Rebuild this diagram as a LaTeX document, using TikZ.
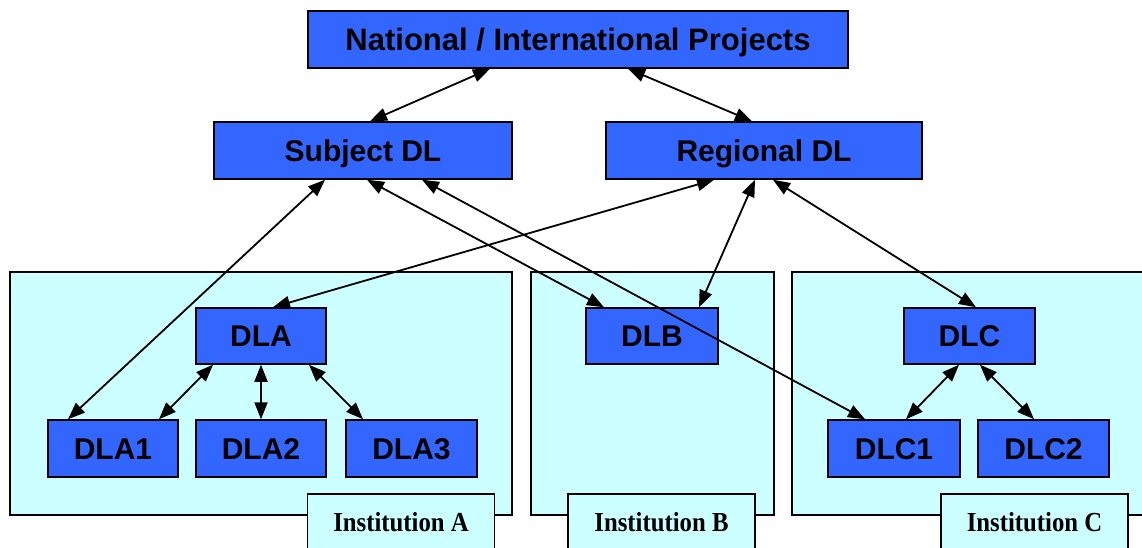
\documentclass[tikz,border=0pt]{standalone}
\usepackage{fontspec}
\setmainfont{Liberation Serif}
\newfontfamily\sansfam{Liberation Sans}
\newfontfamily\labfam[FakeStretch=0.9]{Liberation Serif}
\usetikzlibrary{arrows.meta}
\definecolor{dlblue}{HTML}{3366FF}
\definecolor{instcyan}{HTML}{CCFFFF}
\begin{document}
\begin{tikzpicture}[x=1pt,y=-1pt,
  dlbox/.style={draw=black,line width=1.5pt,fill=dlblue,inner sep=0pt,
    text height=21.5pt,text depth=0pt,
    font=\sansfam\bfseries\fontsize{30}{36}\selectfont},
  instbox/.style={draw=black,line width=1.5pt,fill=instcyan,inner sep=0pt},
  instlabel/.style={draw=black,line width=1.5pt,fill=instcyan,inner sep=0pt,
    minimum width=187pt,minimum height=57pt,text height=18.5pt,text depth=0pt,
    font=\labfam\bfseries\fontsize{27.5}{30}\selectfont},
  link/.style={line width=1.8pt,{Triangle[length=17pt,width=13pt]}-{Triangle[length=17pt,width=13pt]}}
]
\useasboundingbox (0,0) rectangle (1142,548);
% institutions
\node[instbox,minimum width=502pt,minimum height=243pt] (instA) at (261,393.5) {};
\node[instbox,minimum width=243pt,minimum height=243pt] (instB) at (652.5,393.5) {};
\node[instbox,minimum width=360pt,minimum height=243pt] (instC) at (972,393.5) {};
\node[instlabel] (labA) at (401,522.5) {Institution A};
\node[instlabel] (labB) at (661.5,522.5) {Institution B};
\node[instlabel] (labC) at (1034.5,522.5) {Institution C};
% top level
\node[dlbox,minimum width=540pt,minimum height=57pt,text height=22pt,font=\sansfam\bfseries\fontsize{31}{36}\selectfont] (nat) at (578,39.5) {National / International Projects};
\node[dlbox,minimum width=298pt,minimum height=57pt] (subj) at (363,150.5) {Subject DL};
\node[dlbox,minimum width=316pt,minimum height=57pt] (reg) at (764,150.5) {Regional DL};
% institution nodes
\node[dlbox,minimum width=130pt,minimum height=56pt] (dla) at (261,336) {DLA};
\node[dlbox,minimum width=130pt,minimum height=57pt] (dla1) at (113,448.5) {DLA1};
\node[dlbox,minimum width=130pt,minimum height=57pt] (dla2) at (261,448.5) {DLA2};
\node[dlbox,minimum width=131pt,minimum height=57pt] (dla3) at (411.5,448.5) {DLA3};
\node[dlbox,minimum width=132pt,minimum height=56pt] (dlb) at (652,336) {DLB};
\node[dlbox,minimum width=131pt,minimum height=56pt] (dlc) at (969.5,336) {DLC};
\node[dlbox,minimum width=132pt,minimum height=57pt] (dlc1) at (894,448.5) {DLC1};
\node[dlbox,minimum width=131pt,minimum height=57pt] (dlc2) at (1043.5,448.5) {DLC2};
% connectors
\draw[link] ([xshift=-88]nat.south) -- ([xshift=7]subj.north);
\draw[link] ([xshift=50]nat.south) -- ([xshift=-12]reg.north);
\draw[link] ([xshift=-38]subj.south) -- ([xshift=-45]dla1.north);
\draw[link] ([xshift=4]subj.south) -- ([xshift=-48]dlb.north);
\draw[link] ([xshift=59]subj.south) -- ([xshift=-29]dlc1.north);
\draw[link] ([xshift=-50]reg.south) -- ([xshift=12]dla.north);
\draw[link] ([xshift=-9]reg.south) -- ([xshift=47]dlb.north);
\draw[link] ([xshift=9]reg.south) -- ([xshift=6.5]dlc.north);
\draw[link] ([xshift=-48]dla.south) -- ([xshift=46]dla1.north);
\draw[link] (dla.south) -- (dla2.north);
\draw[link] ([xshift=48]dla.south) -- ([xshift=-48.5]dla3.north);
\draw[link] ([xshift=-10.5]dlc.south) -- ([xshift=12]dlc1.north);
\draw[link] ([xshift=10.5]dlc.south) -- ([xshift=-9.5]dlc2.north);
\end{tikzpicture}
\end{document}
